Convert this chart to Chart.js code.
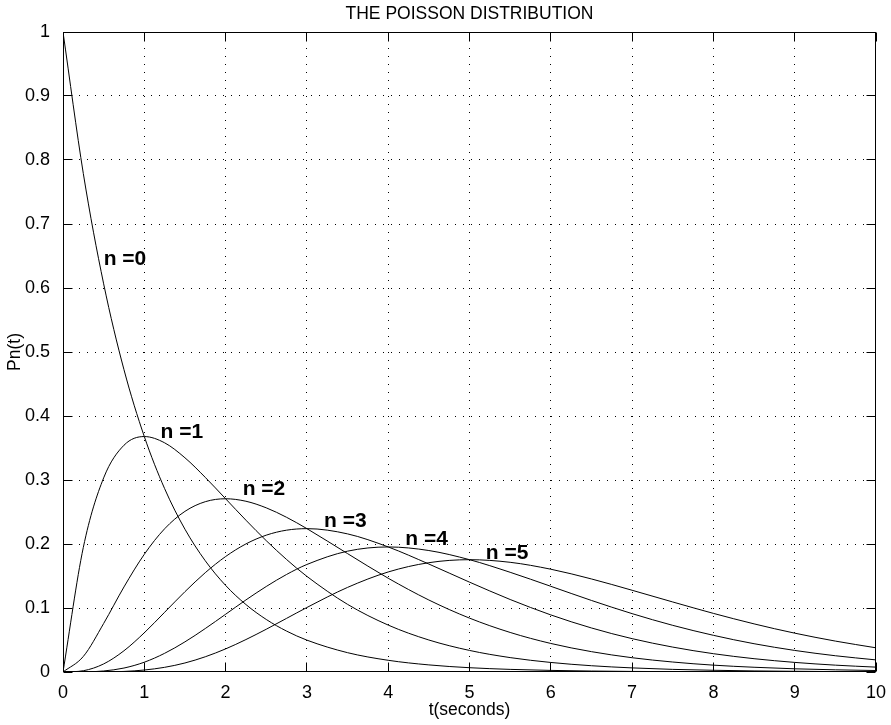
<!DOCTYPE html>
<html>
<head>
<meta charset="utf-8">
<script src="https://cdn.jsdelivr.net/npm/chart.js@4.4.0/dist/chart.umd.min.js"></script>
<style>
  body { margin: 0; background: #fff; }
  canvas { display: block; }
</style>
</head>
<body>
<canvas id="poisson-chart" width="891" height="725"></canvas>
<script>
// t in seconds (finer steps where the curves bend hardest)
const tVals = [0, 0.25, 0.5, 0.75, 1, 1.25, 1.5, 1.75, 2, 2.25, 2.5, 2.75, 3,
  3.5, 4, 4.5, 5, 5.5, 6, 6.5, 7, 7.5, 8, 8.5, 9, 9.5, 10];

const p0 = [1, 0.7788, 0.6065, 0.4724, 0.3679, 0.2865, 0.2231, 0.1738, 0.1353, 0.1054, 0.0821, 0.0639, 0.0498,
  0.0302, 0.0183, 0.0111, 0.0067, 0.0041, 0.0025, 0.0015, 0.0009, 0.0006, 0.0003, 0.0002, 0.0001, 0.0001, 0];
const p1 = [0, 0.1947, 0.3033, 0.3543, 0.3679, 0.3581, 0.3347, 0.3041, 0.2707, 0.2372, 0.2052, 0.1758, 0.1494,
  0.1057, 0.0733, 0.05, 0.0337, 0.0225, 0.0149, 0.0098, 0.0064, 0.0041, 0.0027, 0.0017, 0.0011, 0.0007, 0.0005];
const p2 = [0, 0.0243, 0.0758, 0.1329, 0.1839, 0.2238, 0.251, 0.2661, 0.2707, 0.2668, 0.2565, 0.2417, 0.224,
  0.185, 0.1465, 0.1125, 0.0842, 0.0618, 0.0446, 0.0318, 0.0223, 0.0156, 0.0107, 0.0074, 0.005, 0.0034, 0.0023];
const p3 = [0, 0.002, 0.0126, 0.0332, 0.0613, 0.0933, 0.1255, 0.1552, 0.1804, 0.2001, 0.2138, 0.2216, 0.224,
  0.2158, 0.1954, 0.1687, 0.1404, 0.1133, 0.0892, 0.0688, 0.0521, 0.0389, 0.0286, 0.0208, 0.015, 0.0107, 0.0076];
const p4 = [0, 0.0001, 0.0016, 0.0062, 0.0153, 0.0292, 0.0471, 0.0679, 0.0902, 0.1126, 0.1336, 0.1524, 0.168,
  0.1888, 0.1954, 0.1898, 0.1755, 0.1558, 0.1339, 0.1118, 0.0912, 0.0729, 0.0573, 0.0442, 0.0337, 0.0254, 0.0189];
const p5 = [0, 0, 0.0002, 0.0009, 0.0031, 0.0073, 0.0141, 0.0238, 0.0361, 0.0507, 0.0668, 0.0838, 0.1008,
  0.1322, 0.1563, 0.1708, 0.1755, 0.1714, 0.1606, 0.1454, 0.1277, 0.1094, 0.0916, 0.0752, 0.0607, 0.0483, 0.0378];

const seriesNames = ["n =0", "n =1", "n =2", "n =3", "n =4", "n =5"];
// where each curve's label sits, in (t, Pn) units
const labelT = [0.5, 1.2, 2.21, 3.21, 4.21, 5.2];
const labelP = [0.636, 0.3656, 0.2766, 0.2266, 0.1984, 0.1766];

const xTicks = [0, 1, 2, 3, 4, 5, 6, 7, 8, 9, 10];
const yTicks = [0, 0.1, 0.2, 0.3, 0.4, 0.5, 0.6, 0.7, 0.8, 0.9, 1];

const FONT = "'Liberation Sans', Arial, Helvetica, sans-serif";
const ctx = document.getElementById("poisson-chart").getContext("2d");

const frame = {
  id: "frame",
  beforeDatasetsDraw(chart) {
    const { ctx, chartArea: a, scales: { x, y } } = chart;
    ctx.save();
    ctx.strokeStyle = "#000";
    ctx.lineWidth = 1;
    ctx.setLineDash([1, 7]);
    xTicks.slice(1, -1).forEach((t) => {
      const px = Math.floor(x.getPixelForValue(t)) + 0.5;
      ctx.beginPath();
      ctx.moveTo(px, a.top);
      ctx.lineTo(px, a.bottom);
      ctx.stroke();
    });
    yTicks.slice(1, -1).forEach((v) => {
      const py = Math.floor(y.getPixelForValue(v)) + 0.5;
      ctx.beginPath();
      ctx.moveTo(a.left, py);
      ctx.lineTo(a.right, py);
      ctx.stroke();
    });
    ctx.restore();
  },
  afterDatasetsDraw(chart) {
    const { ctx, chartArea: a, scales: { x, y } } = chart;
    const L = a.left + 0.5, R = a.right - 0.5, T = a.top + 0.5, B = a.bottom - 0.5;
    const len = 9;
    ctx.save();
    ctx.strokeStyle = "#000";
    ctx.lineWidth = 1;
    ctx.setLineDash([]);
    ctx.strokeRect(L, T, R - L, B - T);
    ctx.beginPath();
    xTicks.forEach((t) => {
      const px = Math.floor(x.getPixelForValue(t)) + 0.5;
      ctx.moveTo(px, B); ctx.lineTo(px, B - len);
      ctx.moveTo(px, T); ctx.lineTo(px, T + len);
    });
    yTicks.forEach((v) => {
      const py = Math.floor(y.getPixelForValue(v)) + 0.5;
      ctx.moveTo(L, py); ctx.lineTo(L + len, py);
      ctx.moveTo(R, py); ctx.lineTo(R - len, py);
    });
    ctx.stroke();
    ctx.restore();
  },
  afterDraw(chart) {
    const { ctx, chartArea: a, scales: { x, y } } = chart;
    const cx = (a.left + a.right) / 2;
    ctx.save();
    ctx.fillStyle = "#000";
    ctx.textAlign = "center";
    ctx.textBaseline = "alphabetic";
    ctx.font = "17.5px " + FONT;
    ctx.fillText("THE POISSON DISTRIBUTION", cx, 18.5);
    ctx.fillText("t(seconds)", cx, 715);

    ctx.save();
    ctx.translate(19.5, (a.top + a.bottom) / 2);
    ctx.rotate(-Math.PI / 2);
    ctx.fillText("Pn(t)", 0, 0);
    ctx.restore();

    ctx.font = "bold 21px " + FONT;
    ctx.textAlign = "left";
    seriesNames.forEach((name, i) => {
      ctx.fillText(name, x.getPixelForValue(labelT[i]), y.getPixelForValue(labelP[i]));
    });
    ctx.restore();
  },
};

const allSeries = [p0, p1, p2, p3, p4, p5];

const poissonChart = new Chart(ctx, {
  type: "line",
  data: {
    datasets: allSeries.map((vals, i) => ({
      label: seriesNames[i],
      data: tVals.map((t, j) => ({ x: t, y: vals[j] })),
      borderColor: "#000",
      borderWidth: 1,
      pointRadius: 0,
      fill: false,
      cubicInterpolationMode: "monotone",
    })),
  },
  options: {
    responsive: false,
    animation: false,
    devicePixelRatio: 1,
    layout: { padding: { left: 0, right: 15, top: 32, bottom: 0 } },
    plugins: {
      legend: { display: false },
      tooltip: { enabled: false },
      title: { display: false },
    },
    scales: {
      x: {
        type: "linear",
        min: 0,
        max: 10,
        afterFit: (s) => { s.height = 53; },
        grid: { display: false },
        border: { display: false },
        ticks: {
          stepSize: 1,
          autoSkip: false,
          maxRotation: 0,
          padding: 2,
          color: "#000",
          font: { family: FONT, size: 18 },
          callback: (v) => String(v),
        },
      },
      y: {
        type: "linear",
        min: 0,
        max: 1,
        afterFit: (s) => { s.width = 63; },
        grid: { display: false },
        border: { display: false },
        ticks: {
          stepSize: 0.1,
          autoSkip: false,
          padding: 5,
          color: "#000",
          font: { family: FONT, size: 18 },
          callback: (v) => String(Math.round(v * 10) / 10),
        },
      },
    },
  },
  plugins: [frame],
});
</script>
</body>
</html>
